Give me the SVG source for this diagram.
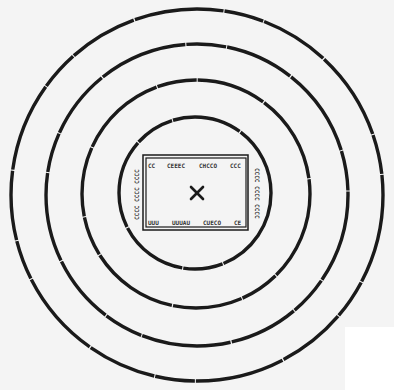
<svg xmlns="http://www.w3.org/2000/svg" width="394" height="390" viewBox="0 0 394 390">
<style>
.ring{fill:none;stroke:#1a1a1a;stroke-width:3.4;stroke-dasharray:90 1 40 1 70 1.2}
.box{fill:none;stroke:#1a1a1a}
.t{font-family:"DejaVu Sans Mono","Liberation Mono",monospace;font-size:6px;fill:#333;font-weight:bold}
</style>
<rect width="394" height="390" fill="#f4f4f4"/>
<rect x="345" y="327" width="49" height="63" fill="#ffffff"/>
<g id="rings">
<circle id="ring1" class="ring" cx="197" cy="195" r="186"/>
<circle id="ring2" class="ring" cx="197" cy="195" r="151"/>
<circle id="ring3" class="ring" cx="196" cy="194" r="114"/>
<circle id="ring4" class="ring" cx="195" cy="193" r="76"/>
</g>
<g id="frame">
<rect class="box" x="143" y="155" width="105" height="75" stroke-width="1.5"/>
<rect class="box" x="146" y="158" width="100" height="69" stroke-width="1.2"/>
<text class="t" x="148" y="168">CC</text>
<text class="t" x="167" y="168">CEEEC</text>
<text class="t" x="199" y="168">CHCCO</text>
<text class="t" x="230" y="168">CCC</text>
<text class="t" x="148" y="225">UUU</text>
<text class="t" x="172" y="225">UUUAU</text>
<text class="t" x="203" y="225">CUECO</text>
<text class="t" x="234" y="225">CE</text>
<text class="t" transform="translate(139,220) rotate(-90)">CCCC CCCC  CCCC</text>
<text class="t" transform="translate(255,168) rotate(90)">CCCC CCCC  CCCC</text>
</g>
<g id="target" stroke="#1a1a1a" stroke-width="2.6" stroke-linecap="round">
<line x1="191" y1="187" x2="203" y2="199"/>
<line x1="203" y1="187" x2="191" y2="199"/>
</g>
</svg>
